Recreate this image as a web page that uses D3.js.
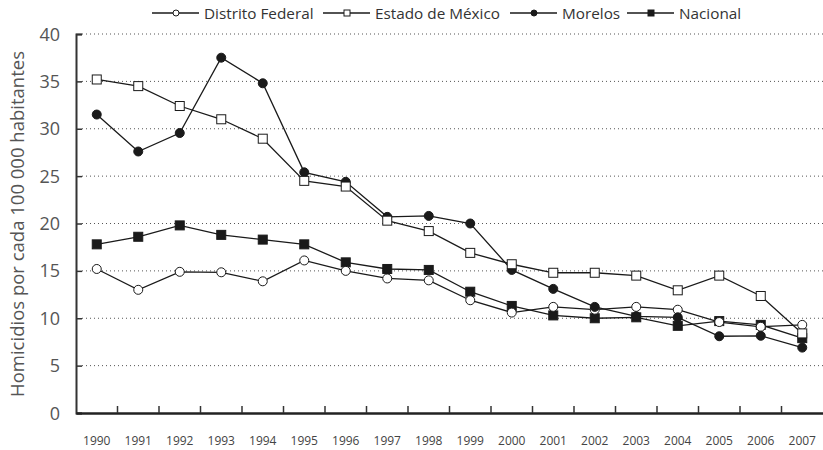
<!DOCTYPE html>
<html><head><meta charset="utf-8">
<script src="https://cdn.jsdelivr.net/npm/d3@7"></script>
<style>body{margin:0;background:#fff}svg{display:block}text{font-family:"Open Sans","Noto Sans",sans-serif}</style>
</head><body><svg id="c" width="823" height="450"></svg>
<script>
const years = [1990,1991,1992,1993,1994,1995,1996,1997,1998,1999,2000,2001,2002,2003,2004,2005,2006,2007];
const distritoFederal = [15.2,13.0,14.9,14.85,13.9,16.1,15.0,14.2,14.0,11.9,10.6,11.2,10.9,11.2,10.9,9.6,9.1,9.3];
const estadoMexico = [35.2,34.5,32.4,31.0,28.95,24.5,23.9,20.3,19.2,16.9,15.7,14.8,14.8,14.5,12.95,14.5,12.35,8.4];
const morelos = [31.5,27.6,29.55,37.5,34.8,25.4,24.4,20.7,20.8,20.0,15.1,13.1,11.2,10.2,10.1,8.1,8.15,6.9];
const nacional = [17.8,18.6,19.8,18.8,18.3,17.8,15.9,15.2,15.1,12.8,11.3,10.3,10.0,10.1,9.2,9.7,9.3,7.9];
const yTicks = [0,5,10,15,20,25,30,35,40];
const seriesNames = ["Distrito Federal","Estado de México","Morelos","Nacional"];
const seriesMarkers = ["circleOpen","squareOpen","circle","square"];

const svg = d3.select("#c");
const mLeft = 76, mRight = 823, mTop = 34, mBottom = 413;
const x = d3.scaleBand().domain(years).range([mLeft, mRight]);
const y = d3.scaleLinear().domain([0,40]).range([mBottom, mTop]);

// gridlines
svg.append("g").selectAll("line").data(yTicks.filter(d=>d>0)).join("line")
  .attr("x1", mLeft+6).attr("x2", mRight).attr("y1", d=>y(d)).attr("y2", d=>y(d))
  .attr("stroke","#555").attr("stroke-width",1).attr("stroke-dasharray","1,3");

// y axis
const ya = svg.append("g").attr("transform",`translate(${mLeft},0)`)
  .call(d3.axisRight(y).tickValues(yTicks).tickSize(6).tickFormat(""));
ya.select(".domain").attr("stroke","#333").attr("stroke-width",2);
ya.selectAll(".tick line").attr("stroke","#333").attr("stroke-width",1.5);
svg.append("g").selectAll("text").data(yTicks).join("text")
  .attr("x", 60).attr("y", d=>y(d)+6.5).attr("text-anchor","end")
  .attr("font-size",18).attr("fill","#555").text(d=>d);

// x axis
const xa = svg.append("g").attr("transform",`translate(0,${mBottom})`)
  .call(d3.axisTop(x).tickSize(0).tickFormat(""));
xa.select(".domain").attr("stroke","#222").attr("stroke-width",2.5);
xa.selectAll(".tick").remove();
svg.append("g").selectAll("line").data(years.slice(1)).join("line")
  .attr("x1", d=>x(d)).attr("x2", d=>x(d)).attr("y1", mBottom).attr("y2", mBottom-7)
  .attr("stroke","#333").attr("stroke-width",1.5);
svg.append("g").selectAll("text").data(years).join("text")
  .attr("x", d=>x(d)+x.bandwidth()/2).attr("y", 445).attr("text-anchor","middle")
  .attr("font-size",12).attr("fill","#444").text(d=>d);

// y title
svg.append("text").attr("transform",`translate(24,224) rotate(-90)`)
  .attr("text-anchor","middle").attr("font-size",18.5).attr("fill","#555")
  .text("Homicidios por cada 100 000 habitantes");

function marker(g, type, cx, cy, s) {
  if (type.startsWith("circle")) {
    g.append("circle").attr("cx",cx).attr("cy",cy).attr("r",s/2)
      .attr("fill", type==="circleOpen" ? "#fff" : "#1a1a1a").attr("stroke","#1a1a1a").attr("stroke-width",1);
  } else {
    g.append("rect").attr("x",cx-s/2).attr("y",cy-s/2).attr("width",s).attr("height",s)
      .attr("fill", type==="squareOpen" ? "#fff" : "#1a1a1a").attr("stroke","#1a1a1a").attr("stroke-width",1);
  }
}

const allSeries = [distritoFederal, estadoMexico, morelos, nacional];
const cxf = d => x(d)+x.bandwidth()/2;
const line = d3.line().x((d,i)=>cxf(years[i])).y(d=>y(d));
const order = [3,0,2,1];
order.forEach(k => {
  svg.append("path").datum(allSeries[k]).attr("d", line)
    .attr("fill","none").attr("stroke","#1a1a1a").attr("stroke-width",1.3);
});
order.forEach(k => {
  const g = svg.append("g");
  allSeries[k].forEach((v,i) => marker(g, seriesMarkers[k], cxf(years[i]), y(v), 9));
});

// legend
const legX = [152, 323, 510, 627];
seriesNames.forEach((n,i) => {
  const g = svg.append("g");
  g.append("line").attr("x1",legX[i]).attr("x2",legX[i]+47).attr("y1",13).attr("y2",13)
    .attr("stroke","#1a1a1a").attr("stroke-width",1.3);
  marker(g, seriesMarkers[i], legX[i]+24, 13, 6);
  g.append("text").attr("x",legX[i]+52).attr("y",18.5).attr("font-size",15.3).attr("fill","#333").text(n);
});
</script></body></html>
